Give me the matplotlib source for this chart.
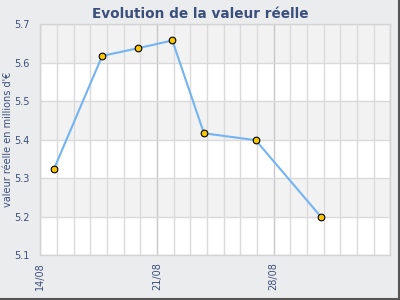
import matplotlib
matplotlib.use("Agg")
import matplotlib.pyplot as plt
import matplotlib.dates as mdates
from matplotlib.lines import Line2D
from datetime import datetime, timedelta

# data
dates = ["2023-08-14 19:30", "2023-08-17 17:00", "2023-08-19 21:00", "2023-08-21 22:00",
         "2023-08-23 19:30", "2023-08-26 22:00", "2023-08-30 20:30"]
values = [5.324, 5.618, 5.638, 5.658, 5.417, 5.399, 5.199]
y_ticks = [5.1, 5.2, 5.3, 5.4, 5.5, 5.6, 5.7]
x_tick_dates = ["2023-08-14", "2023-08-21", "2023-08-28"]

text_col = "#3b4f7c"
bg = "#ebecee"

x = [datetime.strptime(d, "%Y-%m-%d %H:%M") for d in dates]
start = datetime(2023, 8, 14)
end = start + timedelta(days=21)

fig = plt.figure(figsize=(4, 3), dpi=100, facecolor=bg)
ax = fig.add_axes([0.101, 0.149, 0.875, 0.770])
ax.set_facecolor("white")

# alternating horizontal bands
for i in range(len(y_ticks) - 1):
    if (len(y_ticks) - 2 - i) % 2 == 0:
        ax.axhspan(y_ticks[i], y_ticks[i + 1], color="#f2f2f2", zorder=0, lw=0)

# daily grid, weekly slightly darker
for d in range(22):
    day = start + timedelta(days=d)
    col = "#c8c8c8" if d % 7 == 0 else "#dadada"
    ax.axvline(day, color=col, lw=1, zorder=1)
for yv in y_ticks:
    ax.axhline(yv, color="#dadada", lw=1, zorder=1)

ax.plot(x, values, color="#74b4f2", lw=1.5, zorder=3)
ax.plot(x, values, "o", ms=4.8, mfc="#f7c600", mec="black", mew=0.8, zorder=4)

ax.set_xlim(start, end)
ax.set_ylim(5.1, 5.7)
ax.set_yticks(y_ticks)
ax.set_yticklabels([f"{v:.1f}" for v in y_ticks])
ax.set_xticks([datetime.strptime(d, "%Y-%m-%d") for d in x_tick_dates])
ax.xaxis.set_major_formatter(mdates.DateFormatter("%d/%m"))
ax.tick_params(axis="both", length=0, colors=text_col, labelsize=7)
ax.tick_params(axis="y", pad=8)
ax.tick_params(axis="x", pad=5)
for lbl in ax.get_xticklabels():
    lbl.set_rotation(90)
    lbl.set_va("top")
    lbl.set_ha("center")

for s in ax.spines.values():
    s.set_color("#d4d4d4")
    s.set_linewidth(1)

fig.text(0.5, 0.955, "Evolution de la valeur réelle", ha="center", va="center",
         fontsize=9.8, fontweight="bold", color=text_col)
fig.text(0.019, 0.535, "valeur réelle en millions d'€", rotation=90, ha="center",
         va="center", fontsize=7, color=text_col)

# shadow border on right and bottom
fig.add_artist(Line2D([0.9975, 0.9975], [0.005, 1], transform=fig.transFigure,
                      color="#555555", lw=1.5))
fig.add_artist(Line2D([0, 0.9975], [0.005, 0.005], transform=fig.transFigure,
                      color="#555555", lw=1.5))

fig.savefig("out.png", dpi=100, facecolor=bg)
